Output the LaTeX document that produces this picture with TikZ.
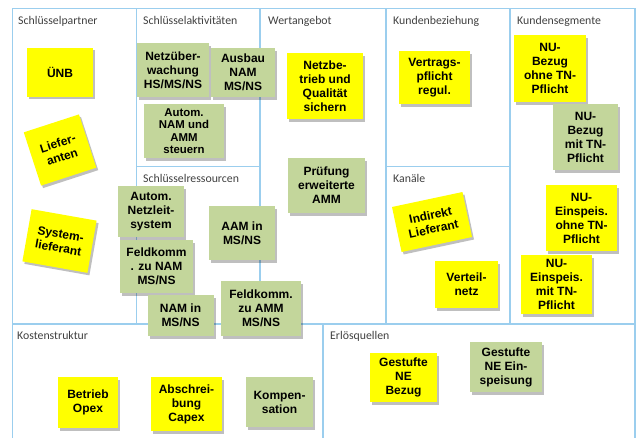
\documentclass[tikz,border=0pt]{standalone}
\usepackage{fontspec}
\setmainfont{Liberation Sans}
\newfontfamily\titlefont{Carlito}
\usetikzlibrary{shadows}
\definecolor{gridblue}{RGB}{155,206,238}
\definecolor{noteyellow}{RGB}{255,255,0}
\definecolor{notegreen}{RGB}{195,214,155}
\definecolor{titlegrey}{RGB}{64,64,64}
\tikzset{
  grid/.style={draw=gridblue, line width=1.4pt},
  note/.style={inner sep=0pt, align=center, font=\fontsize{12}{14}\selectfont\bfseries,
    drop shadow={shadow xshift=2pt, shadow yshift=-2.5pt, fill=black, opacity=0.25}},
  yel/.style={note, fill=noteyellow},
  grn/.style={note, fill=notegreen},
  ttl/.style={anchor=base west, inner sep=0pt, text=titlegrey, font=\titlefont\fontsize{11.8}{13}\selectfont},
}
\begin{document}
\begin{tikzpicture}[x=1pt,y=-1pt]
\useasboundingbox (0,0) rectangle (636,437);
% grid
\draw[grid] (12.5,445) -- (12.5,8.5) -- (635,8.5) -- (635,445);
\draw[grid] (12.5,324) -- (635,324);
\draw[grid] (136.5,8.5) -- (136.5,324);
\draw[grid] (260,8.5) -- (260,324);
\draw[grid] (386,8.5) -- (386,324);
\draw[grid] (510,8.5) -- (510,324);
\draw[grid] (136.5,166.5) -- (260,166.5);
\draw[grid] (386,166.5) -- (510,166.5);
\draw[grid] (323,324) -- (323,445);
% titles
\node[ttl] (t1) at (18,24) {Schlüsselpartner};
\node[ttl] (t2) at (143,24) {Schlüsselaktivitäten};
\node[ttl] (t3) at (268,24) {Wertangebot};
\node[ttl] (t4) at (393,24) {Kundenbeziehung};
\node[ttl] (t5) at (517,24) {Kundensegmente};
\node[ttl] (t6) at (143,182) {Schlüsselressourcen};
\node[ttl] (t7) at (393,182) {Kanäle};
\node[ttl] (t8) at (17,339) {Kostenstruktur};
\node[ttl] (t9) at (330,339) {Erlösquellen};
% Schlüsselpartner
\node[yel, minimum width=66pt, minimum height=49pt] (unb) at (60,72) {ÜNB};
\node[yel, minimum width=58pt, minimum height=56pt, rotate=18] (lief) at (60,150) {Liefer-\\anten};
\node[yel, minimum width=66pt, minimum height=53pt, rotate=-10] (sysl) at (59.5,241) {System-\\lieferant};
% Schlüsselaktivitäten
\node[grn, minimum width=72pt, minimum height=54pt] (netz) at (173,70) {Netzüber-\\wachung\\HS/MS/NS};
\node[grn, minimum width=64pt, minimum height=49pt] (ausb) at (243,72.5) {Ausbau\\NAM\\MS/NS};
\node[grn, minimum width=80pt, minimum height=54pt, font=\fontsize{11.4}{12.5}\selectfont\bfseries] (auto) at (184,131) {Autom.\\NAM und\\AMM\\steuern};
% Schlüsselressourcen
\node[grn, minimum width=66pt, minimum height=51pt] (anls) at (151,211.5) {Autom.\\Netzleit-\\system};
\node[grn, minimum width=73pt, minimum height=53pt] (fnam) at (156.5,266.5) {Feldkomm\\. zu NAM\\MS/NS};
\node[grn, minimum width=66pt, minimum height=54pt] (aam) at (242,233) {AAM in\\MS/NS};
\node[grn, minimum width=66pt, minimum height=41pt] (nam) at (180.5,315.5) {NAM in\\MS/NS};
\node[grn, minimum width=80pt, minimum height=55pt] (famm) at (261,308.5) {Feldkomm.\\zu AMM\\MS/NS};
% Wertangebot
\node[yel, minimum width=76pt, minimum height=66pt] (nbq) at (325,86) {Netzbe-\\trieb und\\Qualität\\sichern};
\node[grn, minimum width=77pt, minimum height=55pt] (pruf) at (326.5,185.5) {Prüfung\\erweiterte\\AMM};
% Kundenbeziehung
\node[yel, minimum width=71pt, minimum height=53pt] (vert) at (434.5,77.5) {Vertrags-\\pflicht\\regul.};
% Kanäle
\node[yel, minimum width=72pt, minimum height=46pt, rotate=12] (indl) at (432,222) {Indirekt\\Lieferant};
\node[yel, minimum width=63pt, minimum height=47pt] (vnet) at (466.5,284.5) {Verteil-\\netz};
% Kundensegmente
\node[yel, minimum width=72pt, minimum height=67pt] (nbo) at (550,68.5) {NU-\\Bezug\\ohne TN-\\Pflicht};
\node[grn, minimum width=65pt, minimum height=66pt] (nbm) at (585.5,137) {NU-\\Bezug\\mit TN-\\Pflicht};
\node[yel, minimum width=71pt, minimum height=66pt] (neo) at (581.5,218) {NU-\\Einspeis.\\ohne TN-\\Pflicht};
\node[yel, minimum width=71pt, minimum height=59pt] (nem) at (556.5,284.5) {NU-\\Einspeis.\\mit TN-\\Pflicht};
% Kostenstruktur
\node[yel, minimum width=60pt, minimum height=51pt] (opex) at (88,402.5) {Betrieb\\Opex};
\node[yel, minimum width=71pt, minimum height=54pt] (capx) at (186.5,404) {Abschrei-\\bung\\Capex};
\node[grn, minimum width=67pt, minimum height=50pt] (komp) at (279.5,402) {Kompen-\\sation};
% Erlösquellen
\node[yel, minimum width=67pt, minimum height=49pt] (gnb) at (403.5,377.5) {Gestufte\\NE\\Bezug};
\node[grn, minimum width=72pt, minimum height=50pt] (gne) at (506,367) {Gestufte\\NE Ein-\\speisung};
\end{tikzpicture}
\end{document}
